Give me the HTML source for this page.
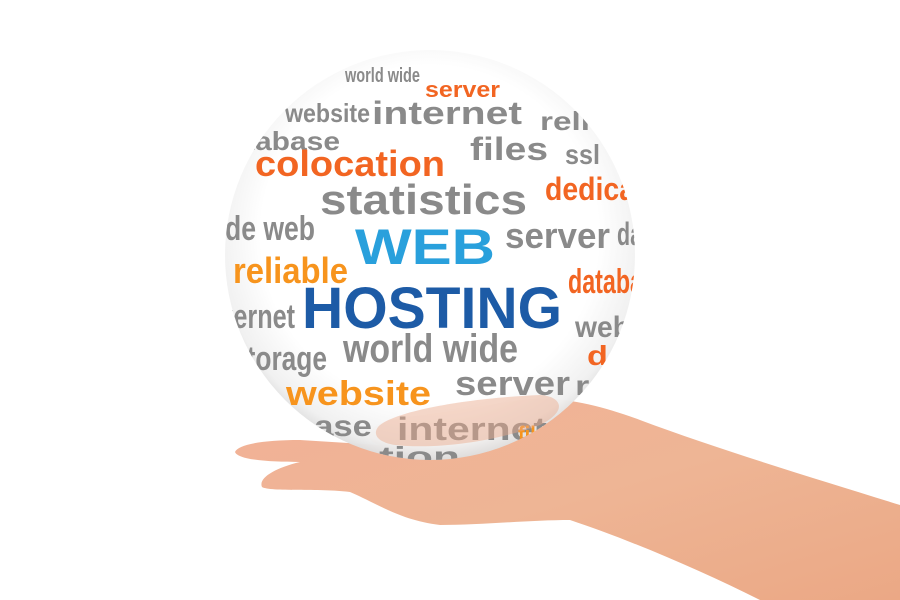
<!DOCTYPE html>
<html><head><meta charset="utf-8"><style>
html,body{margin:0;padding:0;background:#fff;width:900px;height:600px;overflow:hidden}
text{font-family:"Liberation Sans",sans-serif;font-weight:bold}
</style></head><body>
<svg width="900" height="600" viewBox="0 0 900 600" xmlns="http://www.w3.org/2000/svg">
<defs>
<radialGradient id="sp" cx="0.5" cy="0.45" r="0.55">
<stop offset="0.75" stop-color="#ffffff"/><stop offset="0.94" stop-color="#f0f0f0"/><stop offset="1" stop-color="#dedede"/>
</radialGradient>
<linearGradient id="sk" x1="0" y1="0" x2="1" y2="1">
<stop offset="0" stop-color="#f2b196"/><stop offset="0.5" stop-color="#eeb595"/><stop offset="1" stop-color="#eba885"/>
</linearGradient>
<clipPath id="c"><circle cx="430" cy="255" r="205"/></clipPath>
</defs>
<path d="M900,505 C820,480 720,450 640,420 C600,405 560,395 520,400 L390,420 C370,425 360,440 380,445 L300,440 C260,440 238,445 235,452 C238,460 270,462 300,462 C275,468 258,478 262,487 C270,492 320,488 350,492 C380,505 400,520 440,525 C480,525 530,520 570,520 C630,540 700,570 760,600 L900,600 Z" fill="url(#sk)"/>
<circle cx="430" cy="255" r="205" fill="url(#sp)" opacity="0.97"/>
<g clip-path="url(#c)">
<text x="345" y="82" font-size="20" fill="#8a8a8a" textLength="75" lengthAdjust="spacingAndGlyphs">world wide</text>
<text x="425" y="97" font-size="22" fill="#f26522" textLength="75" lengthAdjust="spacingAndGlyphs">server</text>
<text x="285" y="122" font-size="26" fill="#8a8a8a" textLength="85" lengthAdjust="spacingAndGlyphs">website</text>
<text x="372" y="124" font-size="32" fill="#8a8a8a" textLength="150" lengthAdjust="spacingAndGlyphs">internet</text>
<text x="540" y="130" font-size="26" fill="#8a8a8a" textLength="50" lengthAdjust="spacingAndGlyphs">reli</text>
<text x="245" y="150" font-size="26" fill="#8a8a8a" textLength="95" lengthAdjust="spacingAndGlyphs">tabase</text>
<text x="470" y="160" font-size="32" fill="#8a8a8a" textLength="78" lengthAdjust="spacingAndGlyphs">files</text>
<text x="565" y="164" font-size="28" fill="#8a8a8a" textLength="35" lengthAdjust="spacingAndGlyphs">ssl</text>
<text x="255" y="176" font-size="36" fill="#f26522" textLength="190" lengthAdjust="spacingAndGlyphs">colocation</text>
<text x="545" y="200" font-size="32" fill="#f26522" textLength="90" lengthAdjust="spacingAndGlyphs">dedica</text>
<text x="225" y="240" font-size="34" fill="#8a8a8a" textLength="90" lengthAdjust="spacingAndGlyphs">de web</text>
<text x="320" y="214" font-size="42" fill="#8a8a8a" textLength="207" lengthAdjust="spacingAndGlyphs">statistics</text>
<text x="355" y="264" font-size="50" fill="#29a0dc" textLength="140" lengthAdjust="spacingAndGlyphs">WEB</text>
<text x="505" y="248" font-size="36" fill="#8a8a8a" textLength="105" lengthAdjust="spacingAndGlyphs">server</text>
<text x="617" y="245" font-size="32" fill="#8a8a8a" textLength="25" lengthAdjust="spacingAndGlyphs">da</text>
<text x="233" y="283" font-size="36" fill="#f7941d" textLength="115" lengthAdjust="spacingAndGlyphs">reliable</text>
<text x="568" y="293" font-size="34" fill="#f26522" textLength="75" lengthAdjust="spacingAndGlyphs">databa</text>
<text x="302" y="328" font-size="58" fill="#1d5ba6" textLength="260" lengthAdjust="spacingAndGlyphs">HOSTING</text>
<text x="225" y="328" font-size="34" fill="#8a8a8a" textLength="70" lengthAdjust="spacingAndGlyphs">ternet</text>
<text x="232" y="370" font-size="34" fill="#8a8a8a" textLength="95" lengthAdjust="spacingAndGlyphs">storage</text>
<text x="343" y="362" font-size="40" fill="#8a8a8a" textLength="175" lengthAdjust="spacingAndGlyphs">world wide</text>
<text x="575" y="337" font-size="30" fill="#8a8a8a" textLength="55" lengthAdjust="spacingAndGlyphs">web</text>
<text x="286" y="405" font-size="34" fill="#f7941d" textLength="145" lengthAdjust="spacingAndGlyphs">website</text>
<text x="455" y="395" font-size="34" fill="#8a8a8a" textLength="115" lengthAdjust="spacingAndGlyphs">server</text>
<text x="587" y="365" font-size="28" fill="#f26522" textLength="40" lengthAdjust="spacingAndGlyphs">da</text>
<text x="575" y="395" font-size="28" fill="#8a8a8a" textLength="45" lengthAdjust="spacingAndGlyphs">rel</text>
<text x="262" y="436" font-size="30" fill="#8a8a8a" textLength="110" lengthAdjust="spacingAndGlyphs">tabase</text>
<text x="397" y="440" font-size="32" fill="#8a8a8a" textLength="150" lengthAdjust="spacingAndGlyphs">internet</text>
<text x="518" y="443" font-size="24" fill="#f7941d" textLength="40" lengthAdjust="spacingAndGlyphs">files</text>
<text x="330" y="466" font-size="28" fill="#8a8a8a" textLength="130" lengthAdjust="spacingAndGlyphs">cation</text>
</g>
<path d="M380,425 C400,410 470,398 540,395 C560,396 570,410 540,425 C500,440 440,450 395,445 C375,442 372,432 380,425 Z" fill="#eaa98a" opacity="0.45"/>
</svg>
</body></html>
